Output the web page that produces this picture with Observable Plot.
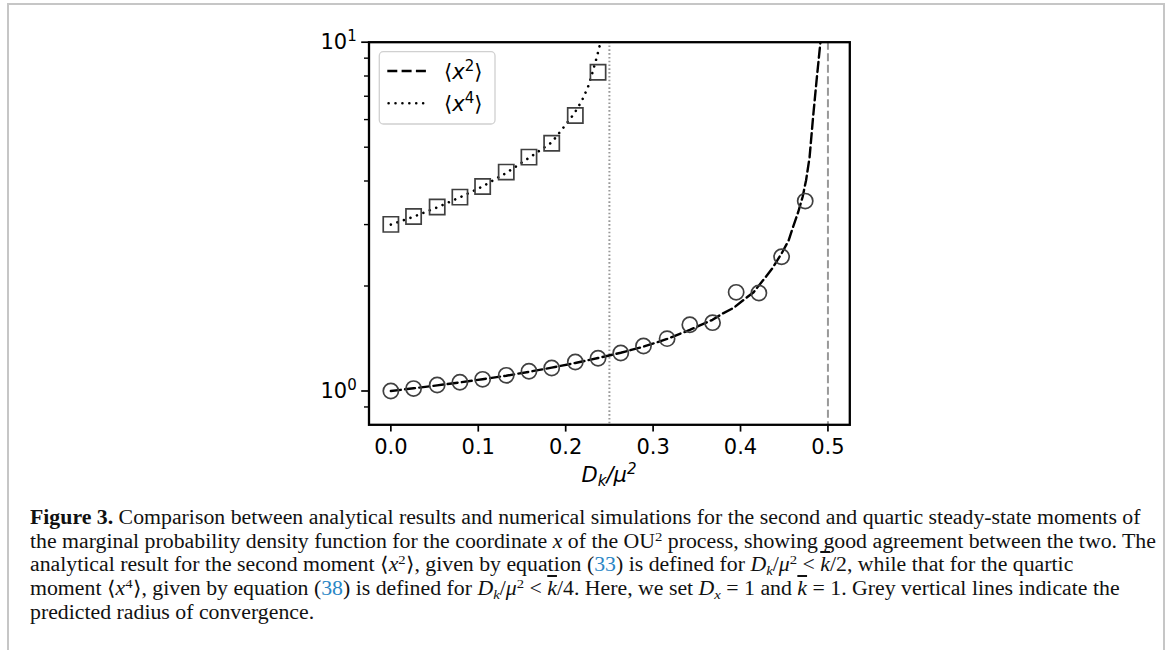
<!DOCTYPE html>
<html><head><meta charset="utf-8">
<script src="https://cdn.jsdelivr.net/npm/d3@7"></script>
<script src="https://cdn.jsdelivr.net/npm/@observablehq/plot@0.6"></script>
<style>
html,body{margin:0;padding:0;background:#fff;}
body{width:1170px;height:650px;position:relative;overflow:hidden;}
#page{position:absolute;left:7px;top:3px;width:1154px;height:700px;border:2px solid #c6c6c6;border-bottom:none;}
#chart{position:absolute;left:0;top:0;}
#caption{position:absolute;left:30px;top:506px;font-family:"Liberation Serif",serif;font-size:20px;line-height:23.7px;white-space:nowrap;color:#111;transform:scaleX(1.09);transform-origin:0 0;}
#caption sup{font-size:13.5px;line-height:0;vertical-align:7px;}
#caption sub{font-size:13.5px;line-height:0;vertical-align:-4px;}
#caption .ref{color:#2a86c5;}
#caption .kb{text-decoration:overline;font-style:italic;}
</style>
</head><body>
<div id="page"></div>
<div id="chart"></div>
<div id="caption">
<b>Figure 3.</b> Comparison between analytical results and numerical simulations for the second and quartic steady-state moments of<br>
the marginal probability density function for the coordinate <i>x</i> of the OU<sup>2</sup> process, showing good agreement between the two. The<br>
analytical result for the second moment ⟨<i>x</i><sup>2</sup>⟩, given by equation (<span class="ref">33</span>) is defined for <i>D</i><sub><i>k</i></sub>/<i>μ</i><sup>2</sup> &lt; <span class="kb">k</span>/2, while that for the quartic<br>
moment ⟨<i>x</i><sup>4</sup>⟩, given by equation (<span class="ref">38</span>) is defined for <i>D</i><sub><i>k</i></sub>/<i>μ</i><sup>2</sup> &lt; <span class="kb">k</span>/4. Here, we set <i>D</i><sub><i>x</i></sub> = 1 and <span class="kb">k</span> = 1. Grey vertical lines indicate the<br>
predicted radius of convergence.
</div>
<script>
// Simulation points: second moment (circles)
const simX2 = [0, 0.026, 0.053, 0.079, 0.105, 0.132, 0.158, 0.184, 0.211, 0.237, 0.263, 0.289, 0.316, 0.342, 0.368, 0.395, 0.421, 0.447, 0.474];
const simY2 = [1.000, 1.016, 1.040, 1.059, 1.080, 1.109, 1.139, 1.164, 1.211, 1.241, 1.285, 1.346, 1.413, 1.549, 1.570, 1.918, 1.909, 2.427, 3.503];
// Simulation points: quartic moment (squares)
const simX4 = [0, 0.026, 0.053, 0.079, 0.105, 0.132, 0.158, 0.184, 0.211, 0.237];
const simY4 = [3.004, 3.166, 3.367, 3.596, 3.859, 4.242, 4.683, 5.135, 6.166, 8.204];
// Analytical curve <x^2>
const curveX2 = [0, 0.026, 0.053, 0.079, 0.105, 0.132, 0.158, 0.184, 0.211, 0.237, 0.263, 0.289, 0.316, 0.342, 0.368, 0.380, 0.392, 0.403, 0.415, 0.426, 0.436, 0.447, 0.455, 0.460, 0.466, 0.471, 0.475, 0.479, 0.483, 0.487, 0.491, 0.4925];
const curveY2 = [1.000, 1.018, 1.038, 1.058, 1.081, 1.106, 1.135, 1.167, 1.203, 1.243, 1.287, 1.340, 1.410, 1.497, 1.600, 1.67, 1.73, 1.82, 1.92, 2.08, 2.24, 2.48, 2.70, 2.95, 3.26, 3.60, 4.02, 4.68, 6.10, 7.77, 9.78, 10.6];
// Analytical curve <x^4>
const curveX4 = [0, 0.026, 0.053, 0.079, 0.105, 0.132, 0.158, 0.184, 0.1955, 0.2012, 0.2061, 0.2107, 0.2183, 0.2252, 0.2290, 0.2324, 0.2358, 0.2385, 0.2404];
const curveY4 = [3.00, 3.16, 3.36, 3.59, 3.86, 4.22, 4.66, 5.16, 5.61, 5.86, 6.07, 6.30, 6.78, 7.40, 7.92, 8.49, 9.10, 9.68, 10.2];
// Radii of convergence
const limits = [0.25, 0.5];
// Ticks
const xTicks = [0, 0.1, 0.2, 0.3, 0.4, 0.5];
const yMajor = [1, 10];
const yMinor = [0.9, 2, 3, 4, 5, 6, 7, 8, 9];

const zip = (xs, ys) => xs.map((x, i) => ({x, y: ys[i]}));
const DOT = "0.01,6.9";

const chart = Plot.plot({
  width: 1170, height: 495,
  marginLeft: 368.5, marginRight: 320.7, marginTop: 41.7, marginBottom: 70.7,
  style: {fontFamily: "DejaVu Sans", fontSize: "21px", color: "black", background: "transparent", overflow: "visible"},
  x: {domain: [-0.025, 0.525]},
  y: {type: "log", domain: [0.8, 10]},
  marks: [
    Plot.ruleX([limits[0]], {stroke: "#999", strokeWidth: 2, strokeDasharray: "1.6,2.2"}),
    Plot.ruleX([limits[1]], {stroke: "#999", strokeWidth: 2, strokeDasharray: "8,3.5"}),
    Plot.line(zip(curveX2, curveY2), {x: "x", y: "y", stroke: "black", strokeWidth: 2.4, strokeDasharray: "10,4.3", clip: true}),
    Plot.line(zip(curveX4, curveY4), {x: "x", y: "y", stroke: "black", strokeWidth: 2.6, strokeDasharray: DOT, strokeLinecap: "round", clip: true}),
    Plot.dot(zip(simX2, simY2), {x: "x", y: "y", r: 7.6, stroke: "#404040", strokeWidth: 1.7, fill: "none"}),
    Plot.dot(zip(simX4, simY4), {x: "x", y: "y", symbol: "square", r: 8.6, stroke: "#404040", strokeWidth: 1.7, fill: "none"}),
    Plot.axisX({ticks: xTicks, tickSize: 7.3, tickPadding: 7, fontSize: 21, tickFormat: d3.format(".1f"), label: null, strokeWidth: 1.7}),
    Plot.axisY({ticks: yMajor, tickSize: 7.3, tickPadding: 5, fontSize: 21, tickFormat: d => "10^" + Math.round(Math.log10(d)), label: null, strokeWidth: 1.7}),
    Plot.axisY({ticks: yMinor, tickSize: 4.5, tickFormat: () => "", label: null, strokeWidth: 1.4}),
    Plot.frame({stroke: "black", strokeWidth: 2.3})
  ]
});
document.getElementById("chart").appendChild(chart);

const svg = d3.select(chart);
// superscript exponents for log tick labels
svg.selectAll("text").each(function() {
  const m = this.textContent.match(/^10\^(-?\d+)$/);
  if (m) {
    const t = d3.select(this);
    t.text("");
    t.append("tspan").text("10");
    t.append("tspan").attr("font-size", 15).attr("dy", -8).text(m[1]);
  }
});
// x-axis label
const xl = svg.append("text").attr("x", 609).attr("y", 482).attr("text-anchor", "middle")
  .attr("font-family", "DejaVu Sans").attr("font-size", 21).attr("font-style", "italic").attr("fill", "black");
xl.append("tspan").text("D");
xl.append("tspan").attr("font-size", 15).attr("dy", 4).text("k");
xl.append("tspan").attr("dy", -4).text("/μ");
xl.append("tspan").attr("font-size", 15).attr("dy", -8).text("2");

// legend
const lg = svg.append("g");
lg.append("rect").attr("x", 379.3).attr("y", 51.7).attr("width", 115.7).attr("height", 72.3).attr("rx", 4)
  .attr("fill", "white").attr("fill-opacity", 0.8).attr("stroke", "#d0d0d0").attr("stroke-width", 1.3);
const entries = [
  {dash: "10,4.3", exp: "2", y: 71, cap: "butt", w: 2.4},
  {dash: DOT, exp: "4", y: 103.3, cap: "round", w: 2.6}
];
entries.forEach(e => {
  lg.append("line").attr("x1", e.cap === "round" ? 388.6 : 387.3).attr("x2", 426).attr("y1", e.y).attr("y2", e.y)
    .attr("stroke", "black").attr("stroke-width", e.w).attr("stroke-dasharray", e.dash).attr("stroke-linecap", e.cap);
  const t = lg.append("text").attr("x", 444).attr("y", e.y + 8).attr("text-anchor", "start")
    .attr("font-family", "DejaVu Sans").attr("font-size", 21).attr("fill", "black");
  t.append("tspan").text("⟨");
  t.append("tspan").attr("font-style", "italic").text("x");
  t.append("tspan").attr("font-size", 15).attr("dy", -8).text(e.exp);
  t.append("tspan").attr("dy", 8).text("⟩");
});
</script>
</body></html>
